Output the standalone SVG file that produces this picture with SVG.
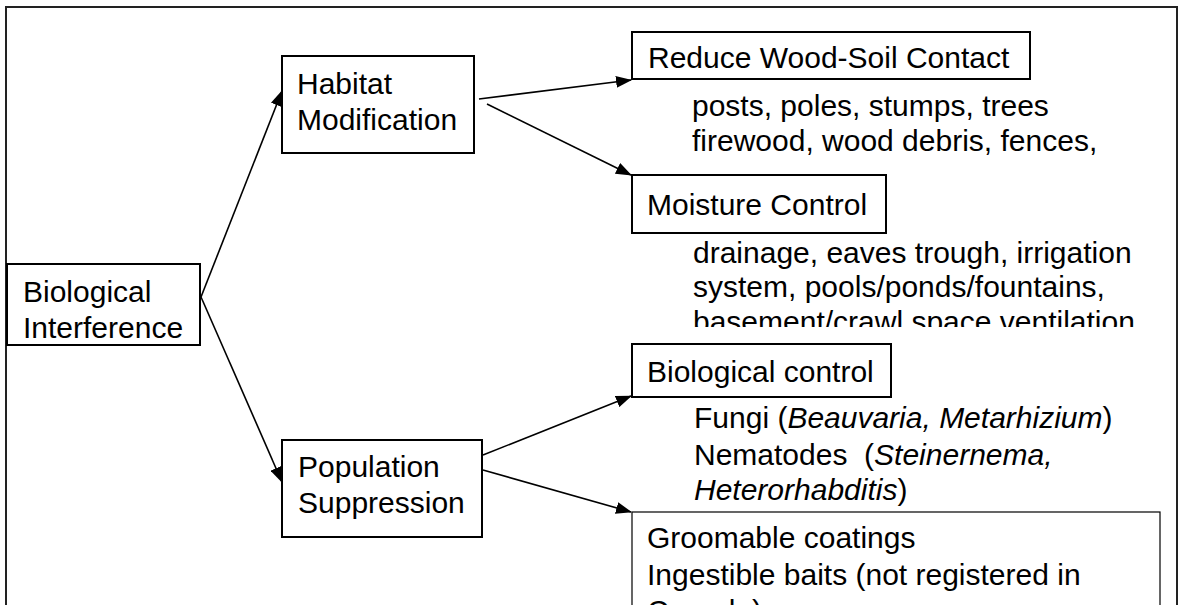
<svg xmlns="http://www.w3.org/2000/svg" width="1178" height="605" viewBox="0 0 1178 605">
<style>
  text { font-family: "Liberation Sans", Arial, sans-serif; font-size: 30px; fill: #000; white-space: pre; }
  .box { fill: #fff; stroke: #000; stroke-width: 2; }
  .thin { fill: #fff; stroke: #000; stroke-width: 1.2; }
  .conn { fill: none; stroke: #000; stroke-width: 1.6; marker-end: url(#arrow); }
  .it { font-style: italic; }
</style>
<defs>
  <marker id="arrow" markerUnits="userSpaceOnUse" markerWidth="16" markerHeight="12" viewBox="0 0 16 12" refX="15" refY="6" orient="auto">
    <path d="M0,0 L16,6 L0,12 Z" fill="#000"/>
  </marker>
  <clipPath id="clipVent"><rect x="600" y="290" width="578" height="37"/></clipPath>
</defs>
<rect width="1178" height="605" fill="#fff"/>
<path id="frame" d="M6,605 V7 H1177 V605" fill="none" stroke="#222" stroke-width="2"/>

<g id="connectors">
  <line class="conn" x1="201" y1="297" x2="282" y2="91"/>
  <line class="conn" x1="201" y1="297" x2="282" y2="482"/>
  <line class="conn" x1="479" y1="99" x2="631" y2="80"/>
  <line class="conn" x1="487" y1="104" x2="631" y2="175"/>
  <line class="conn" x1="483" y1="455" x2="631" y2="396"/>
  <line class="conn" x1="483" y1="470" x2="631" y2="512"/>
</g>

<g id="node-biological-interference">
  <rect class="box" x="7" y="264" width="193" height="81"/>
  <text x="23" y="302">Biological</text>
  <text x="23" y="338">Interference</text>
</g>

<g id="node-habitat-modification">
  <rect class="box" x="282" y="56" width="192" height="97"/>
  <text x="297" y="94">Habitat</text>
  <text x="297" y="130">Modification</text>
</g>

<g id="node-population-suppression">
  <rect class="box" x="282" y="440" width="200" height="97"/>
  <text x="298" y="477">Population</text>
  <text x="298" y="513">Suppression</text>
</g>

<g id="node-reduce-wood-soil-contact">
  <text x="692" y="116">posts, poles, stumps, trees</text>
  <text x="692" y="151">firewood, wood debris, fences,</text>
  <rect class="box" x="632" y="32" width="398" height="47"/>
  <text x="648" y="68">Reduce Wood-Soil Contact</text>
</g>

<g id="node-moisture-control">
  <rect class="box" x="632" y="175" width="254" height="58"/>
  <text x="647" y="215">Moisture Control</text>
  <text x="693" y="263">drainage, eaves trough, irrigation</text>
  <text x="693" y="297">system, pools/ponds/fountains,</text>
  <text x="693" y="332" clip-path="url(#clipVent)">basement/crawl space ventilation</text>
</g>

<g id="node-biological-control">
  <rect class="box" x="632" y="344" width="259" height="53"/>
  <text x="647" y="382">Biological control</text>
  <text x="694" y="428">Fungi (<tspan class="it">Beauvaria, Metarhizium</tspan>)</text>
  <text x="694" y="465">Nematodes  (<tspan class="it">Steinernema,</tspan></text>
  <text x="694" y="500"><tspan class="it">Heterorhabditis</tspan>)</text>
</g>

<g id="node-other-suppression">
  <rect class="thin" x="632" y="512" width="528" height="120"/>
  <text x="647" y="548">Groomable coatings</text>
  <text x="647" y="585">Ingestible baits (not registered in</text>
  <text x="647" y="621">Canada)</text>
</g>
</svg>
